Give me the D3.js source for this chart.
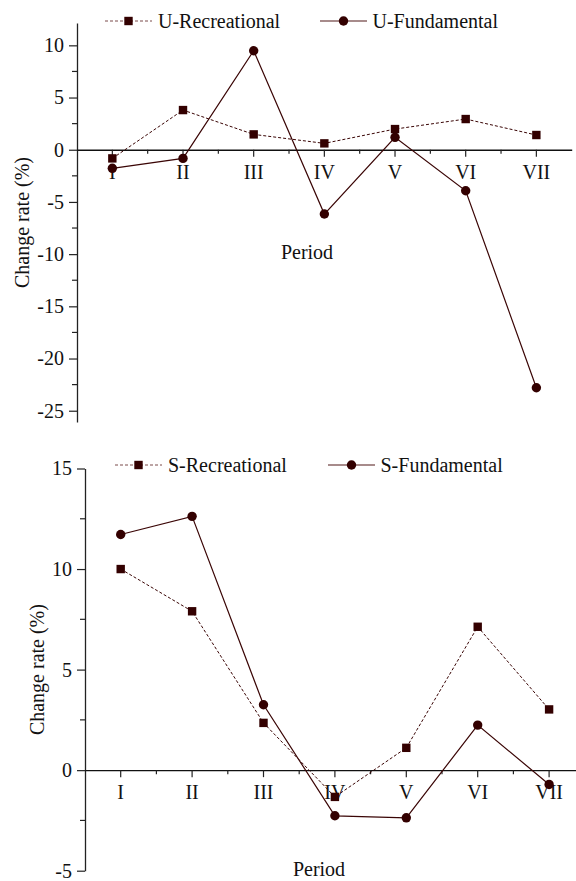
<!DOCTYPE html>
<html>
<head>
<meta charset="utf-8">
<script src="https://cdn.jsdelivr.net/npm/d3@7"></script>
<style>
  body { margin: 0; background: #fff; }
  text { font-family: "Liberation Serif", "Times New Roman", serif; fill: #111; }
</style>
</head>
<body>
<div id="chart"></div>
<script>
const periods = ['I', 'II', 'III', 'IV', 'V', 'VI', 'VII'];

// top panel (U)
const uRecreational = [-0.83, 3.8, 1.47, 0.61, 1.98, 2.94, 1.41];
const uFundamental = [-1.78, -0.83, 9.48, -6.16, 1.19, -3.93, -22.8];
const uTicks = [-25, -20, -15, -10, -5, 0, 5, 10];
const uMinorTicks = [-22.5, -17.5, -12.5, -7.5, -2.5, 2.5, 7.5];

// bottom panel (S)
const sRecreational = [10.0, 7.9, 2.35, -1.33, 1.11, 7.13, 3.02];
const sFundamental = [11.72, 12.62, 3.25, -2.27, -2.37, 2.24, -0.71];
const sTicks = [-5, 0, 5, 10, 15];
const sMinorTicks = [-2.5, 2.5, 7.5, 12.5];

const width = 576, height = 881;
const lineColor = '#3a0505';
const markColor = '#330000';

const svg = d3.select('#chart').append('svg')
  .attr('width', width)
  .attr('height', height);

function drawPanel(cfg) {
  const x = d3.scaleBand().domain(periods).range(cfg.xRange);
  const y = d3.scaleLinear().domain(cfg.yDomain).range(cfg.yRange);
  const g = svg.append('g');
  const cx = d => x(d) + x.bandwidth() / 2;

  // y axis
  const yAxis = g.append('g')
    .attr('transform', `translate(${cfg.xRange[0]},0)`)
    .call(d3.axisLeft(y).tickValues(cfg.ticks).tickFormat(d => String(d))
      .tickSize(8).tickSizeOuter(0).tickPadding(5));
  yAxis.select('.domain').attr('stroke', '#222').attr('stroke-width', 1.3);
  yAxis.selectAll('.tick line').attr('stroke', '#222').attr('stroke-width', 1.2);
  yAxis.selectAll('.tick text').attr('font-size', 20).attr('font-family', '"Liberation Serif", serif').attr('fill', '#111');
  yAxis.selectAll('.minor')
    .data(cfg.minor)
    .enter().append('line')
    .attr('x1', 0).attr('x2', -5)
    .attr('y1', d => y(d)).attr('y2', d => y(d))
    .attr('stroke', '#222').attr('stroke-width', 1.2);

  // x axis at zero
  const xAxis = g.append('g')
    .attr('transform', `translate(0,${y(0)})`)
    .call(d3.axisBottom(x).tickSize(7).tickSizeOuter(0).tickPadding(8));
  xAxis.select('.domain').attr('stroke', '#111').attr('stroke-width', 1.3);
  xAxis.selectAll('.tick line').attr('stroke', '#222').attr('stroke-width', 1.2);
  xAxis.selectAll('.tick text').attr('font-size', 20).attr('font-family', '"Liberation Serif", serif').attr('fill', '#444');
  xAxis.selectAll('.minor')
    .data(periods.slice(1))
    .enter().append('line')
    .attr('x1', d => x(d)).attr('x2', d => x(d))
    .attr('y1', 0).attr('y2', 4)
    .attr('stroke', '#222').attr('stroke-width', 1.2);

  // titles
  g.append('text')
    .attr('transform', `translate(${cfg.yTitleX},${(cfg.yRange[0] + cfg.yRange[1]) / 2}) rotate(-90)`)
    .attr('text-anchor', 'middle')
    .attr('dy', '0.35em')
    .attr('font-size', 20)
    .text('Change rate (%)');
  g.append('text')
    .attr('x', cfg.xTitle[0]).attr('y', cfg.xTitle[1])
    .attr('text-anchor', 'middle')
    .attr('font-size', 20)
    .text('Period');

  // series
  const line = d3.line().x((d, i) => cx(periods[i])).y(d => y(d));
  g.append('path')
    .datum(cfg.rec)
    .attr('d', line)
    .attr('fill', 'none')
    .attr('stroke', lineColor)
    .attr('stroke-width', 1)
    .attr('stroke-dasharray', '3,2');
  g.append('path')
    .datum(cfg.fund)
    .attr('d', line)
    .attr('fill', 'none')
    .attr('stroke', lineColor)
    .attr('stroke-width', 1.2);

  g.selectAll('.sq')
    .data(cfg.rec)
    .enter().append('rect')
    .attr('x', (d, i) => cx(periods[i]) - 4.2)
    .attr('y', d => y(d) - 4.2)
    .attr('width', 8.4).attr('height', 8.4)
    .attr('fill', markColor);
  g.selectAll('.dot')
    .data(cfg.fund)
    .enter().append('circle')
    .attr('cx', (d, i) => cx(periods[i]))
    .attr('cy', d => y(d))
    .attr('r', 4.7)
    .attr('fill', markColor);

  // legend
  const ly = cfg.legendY;
  const L = cfg.legend;
  g.append('line')
    .attr('x1', L[0]).attr('x2', L[0] + 47).attr('y1', ly).attr('y2', ly)
    .attr('stroke', '#7a4a4a').attr('stroke-width', 1).attr('stroke-dasharray', '3,2');
  g.append('rect')
    .attr('x', L[0] + 23.5 - 4.2).attr('y', ly - 4.2)
    .attr('width', 8.4).attr('height', 8.4)
    .attr('fill', markColor);
  g.append('text')
    .attr('x', L[0] + 53).attr('y', ly + 7)
    .attr('font-size', 20)
    .text(cfg.names[0]);
  g.append('line')
    .attr('x1', L[1]).attr('x2', L[1] + 47).attr('y1', ly).attr('y2', ly)
    .attr('stroke', '#8a6464').attr('stroke-width', 1.3);
  g.append('circle')
    .attr('cx', L[1] + 23.5).attr('cy', ly)
    .attr('r', 4.7)
    .attr('fill', markColor);
  g.append('text')
    .attr('x', L[1] + 52.5).attr('y', ly + 7)
    .attr('font-size', 20)
    .text(cfg.names[1]);
}

drawPanel({
  rec: uRecreational, fund: uFundamental,
  ticks: uTicks, minor: uMinorTicks,
  xRange: [77, 571.7],
  yDomain: [-26.08, 12.14], yRange: [422, 23],
  yTitleX: 22, xTitle: [307, 259],
  legendY: 21, legend: [105, 320],
  names: ['U-Recreational', 'U-Fundamental']
});

drawPanel({
  rec: sRecreational, fund: sFundamental,
  ticks: sTicks, minor: sMinorTicks,
  xRange: [85, 584.8],
  yDomain: [-5, 15], yRange: [870.7, 468.5],
  yTitleX: 37, xTitle: [319, 876],
  legendY: 465, legend: [115, 328],
  names: ['S-Recreational', 'S-Fundamental']
});
</script>
</body>
</html>
